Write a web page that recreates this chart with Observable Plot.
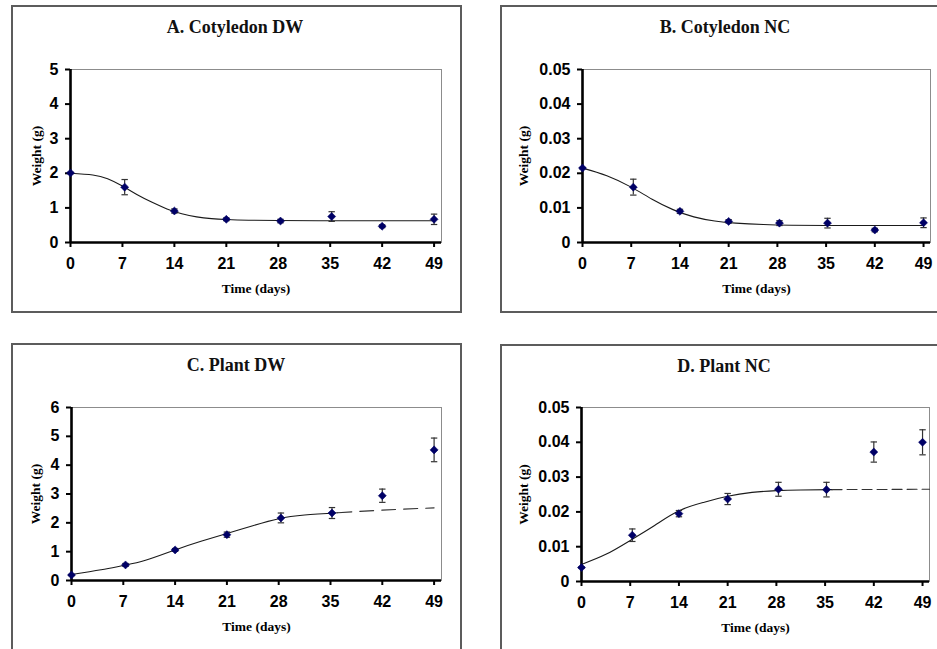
<!DOCTYPE html>
<html><head><meta charset="utf-8">
<script src="https://cdn.jsdelivr.net/npm/d3@7"></script>
<script src="https://cdn.jsdelivr.net/npm/@observablehq/plot@0.6"></script>
<style>
body{margin:0;background:#fff;}
#root{position:relative;width:937px;height:649px;overflow:hidden;background:#fff;}
.box{position:absolute;border:2px solid #5c5c5c;box-sizing:border-box;pointer-events:none;}
.title{position:absolute;font-family:"Liberation Serif","Times New Roman",serif;font-weight:bold;font-size:18px;line-height:18px;white-space:nowrap;transform:translate(-50%,-50%);color:#111;}
.panel{position:absolute;}
</style></head>
<body><div id="root"></div>
<script>
// ---- data ----
const titles = ["A. Cotyledon DW", "B. Cotyledon NC", "C. Plant DW", "D. Plant NC"];
const xLabel = "Time (days)";
const yLabel = "Weight (g)";
const xTicks = [0, 7, 14, 21, 28, 35, 42, 49];
const yTicksDW_A = [0, 1, 2, 3, 4, 5];
const yTicksDW_C = [0, 1, 2, 3, 4, 5, 6];
const yTicksNC = [0, 0.01, 0.02, 0.03, 0.04, 0.05];

const days = [0, 7.3, 14, 21, 28.3, 35.2, 42, 49];

const meanA = [2.01, 1.60, 0.91, 0.67, 0.62, 0.75, 0.47, 0.67];
const errA  = [0.02, 0.22, 0.06, 0.04, 0.05, 0.14, 0.04, 0.15];
const meanB = [0.0215, 0.0160, 0.0090, 0.0061, 0.0056, 0.0056, 0.0036, 0.0057];
const errB  = [0.0002, 0.0023, 0.0006, 0.0005, 0.0007, 0.0014, 0.0005, 0.0014];
const meanC = [0.19, 0.54, 1.06, 1.59, 2.17, 2.34, 2.94, 4.53];
const errC  = [0.02, 0.05, 0.05, 0.09, 0.17, 0.19, 0.23, 0.41];
const meanD = [0.0040, 0.0133, 0.0195, 0.0237, 0.0265, 0.0264, 0.0372, 0.0400];
const errD  = [0.0002, 0.0018, 0.0009, 0.0016, 0.0020, 0.0021, 0.0029, 0.0036];

// fitted curves (solid)
const fitDaysA = [0, 3, 5, 7, 9, 11, 13, 15, 17, 19, 21, 24, 28, 35, 42, 49];
const fitA     = [2.0, 1.95, 1.84, 1.63, 1.38, 1.16, 0.97, 0.83, 0.74, 0.69, 0.665, 0.645, 0.635, 0.63, 0.63, 0.63];
const fitDaysB = [0, 3.5, 7, 10, 13, 16, 19, 22, 26, 30, 35, 42, 49];
const fitB     = [0.0215, 0.0193, 0.0160, 0.0125, 0.0095, 0.0074, 0.0062, 0.0056, 0.0052, 0.0050, 0.0049, 0.0049, 0.0049];
const fitDaysC = [0, 4, 7, 10, 14, 17.5, 21, 24.5, 28, 31.5, 36];
const fitC     = [0.21, 0.37, 0.52, 0.70, 1.06, 1.36, 1.63, 1.90, 2.14, 2.27, 2.35];
const fitDaysD = [0, 3.5, 7, 10.5, 14, 17.5, 21, 24.5, 28, 31.5, 36];
const fitD     = [0.0049, 0.0078, 0.0118, 0.0161, 0.0203, 0.0227, 0.0245, 0.0256, 0.0261, 0.0263, 0.0264];
// extrapolated (dashed) parts
const dashDaysC = [36, 42, 49];
const dashC     = [2.35, 2.44, 2.52];
const dashDaysD = [36, 50];
const dashD     = [0.0264, 0.0265];

// ---- layout ----
const panels = [
  {title: titles[0], mean: meanA, err: errA, fitX: fitDaysA, fitY: fitA, yDomain: [0, 5], yTicks: yTicksDW_A,
   left: 11, top: 5, width: 451, height: 308, mL: 59, mR: 21, mT: 64, mB: 71, ylabDx: -34,
   box: {l: 11, t: 5, w: 451, h: 308}, tx: 235, ty: 27, dashArr: "14,8"},
  {title: titles[1], mean: meanB, err: errB, fitX: fitDaysB, fitY: fitB, yDomain: [0, 0.05], yTicks: yTicksNC,
   left: 501, top: 5, width: 436, height: 308, mL: 81, mR: 7, mT: 64, mB: 71, ylabDx: -59,
   box: {l: 500, t: 5, w: 450, h: 308}, tx: 725, ty: 27, dashArr: "10,5"},
  {title: titles[2], mean: meanC, err: errC, fitX: fitDaysC, fitY: fitC, dashX: dashDaysC, dashY: dashC, yDomain: [0, 6], yTicks: yTicksDW_C,
   left: 12, top: 343, width: 450, height: 306, mL: 59, mR: 21, mT: 64, mB: 69, ylabDx: -36,
   box: {l: 11, t: 343, w: 451, h: 320}, tx: 236, ty: 365, dashArr: "14,8"},
  {title: titles[3], mean: meanD, err: errD, fitX: fitDaysD, fitY: fitD, dashX: dashDaysD, dashY: dashD, yDomain: [0, 0.05], yTicks: yTicksNC,
   left: 501, top: 344, width: 436, height: 305, mL: 80, mR: 8, mT: 63, mB: 68, ylabDx: -58,
   box: {l: 500, t: 344, w: 450, h: 320}, tx: 724, ty: 366, dashArr: "10,5"}
];

const capSymbol = {
  draw(ctx, size) {
    const r = Math.sqrt(size / Math.PI);
    ctx.moveTo(-r, 0); ctx.lineTo(r, 0);
  }
};

const root = document.getElementById("root");
const serif = "Liberation Serif, Times New Roman, serif";
const sans = "Liberation Sans, Arial, sans-serif";

for (const p of panels) {
  const pts = days.map((d, i) => ({day: d, v: p.mean[i], lo: p.mean[i] - p.err[i], hi: p.mean[i] + p.err[i]}));
  const fit = p.fitX.map((d, i) => ({day: d, v: p.fitY[i]}));
  const dash = p.dashX ? p.dashX.map((d, i) => ({day: d, v: p.dashY[i]})) : [];
  const chart = Plot.plot({
    width: p.width, height: p.height,
    marginLeft: p.mL, marginRight: p.mR, marginTop: p.mT, marginBottom: p.mB,
    style: {background: "transparent", overflow: "visible", fontFamily: sans},
    x: {domain: [0, 50], axis: null},
    y: {domain: p.yDomain, axis: null},
    marks: [
      Plot.frame({stroke: "#8c8c8c", strokeWidth: 1}),
      Plot.line(fit, {x: "day", y: "v", curve: "natural", stroke: "#1a1a1a", strokeWidth: 1.1}),
      Plot.line(dash, {x: "day", y: "v", curve: "natural", stroke: "#333", strokeWidth: 1.1, strokeDasharray: p.dashArr}),
      Plot.ruleX(pts, {x: "day", y1: "lo", y2: "hi", stroke: "#333", strokeWidth: 1.2}),
      Plot.dot(pts, {x: "day", y: "lo", symbol: capSymbol, r: 3.2, stroke: "#333", fill: "none", strokeWidth: 1.2}),
      Plot.dot(pts, {x: "day", y: "hi", symbol: capSymbol, r: 3.2, stroke: "#333", fill: "none", strokeWidth: 1.2}),
      Plot.ruleX([0], {stroke: "#000", strokeWidth: 2.6}),
      Plot.ruleY([0], {stroke: "#000", strokeWidth: 2.6}),
      Plot.axisY({ticks: p.yTicks, tickFormat: d => String(d), tickSize: 5, tickPadding: 7, strokeWidth: 2,
        fontSize: 16, fontWeight: "bold", fontFamily: sans, fill: "#000", label: null}),
      Plot.axisX({ticks: xTicks, tickFormat: d => String(d), tickSize: 5, tickPadding: 10, strokeWidth: 2,
        fontSize: 16, fontWeight: "bold", fontFamily: sans, fill: "#000", label: null}),
      Plot.dot(pts, {x: "day", y: "v", symbol: "square", rotate: 45, r: 3.2, fill: "#000066", stroke: "#000066", strokeWidth: 0.5}),
      Plot.text([xLabel], {text: d => d, frameAnchor: "bottom", dy: 46, lineAnchor: "middle",
        fontFamily: serif, fontWeight: "bold", fontSize: 13.5, fill: "#000"}),
      Plot.text([yLabel], {text: d => d, frameAnchor: "left", dx: p.ylabDx, rotate: -90, lineAnchor: "middle", textAnchor: "middle",
        fontFamily: serif, fontWeight: "bold", fontSize: 13.5, fill: "#000"})
    ]
  });
  const wrap = document.createElement("div");
  wrap.className = "panel";
  wrap.style.left = p.left + "px";
  wrap.style.top = p.top + "px";
  wrap.appendChild(chart);
  root.appendChild(wrap);

  const box = document.createElement("div");
  box.className = "box";
  box.style.left = p.box.l + "px"; box.style.top = p.box.t + "px";
  box.style.width = p.box.w + "px"; box.style.height = p.box.h + "px";
  root.appendChild(box);

  const t = document.createElement("div");
  t.className = "title";
  t.textContent = p.title;
  t.style.left = p.tx + "px"; t.style.top = p.ty + "px";
  root.appendChild(t);
}
</script>
</body></html>
